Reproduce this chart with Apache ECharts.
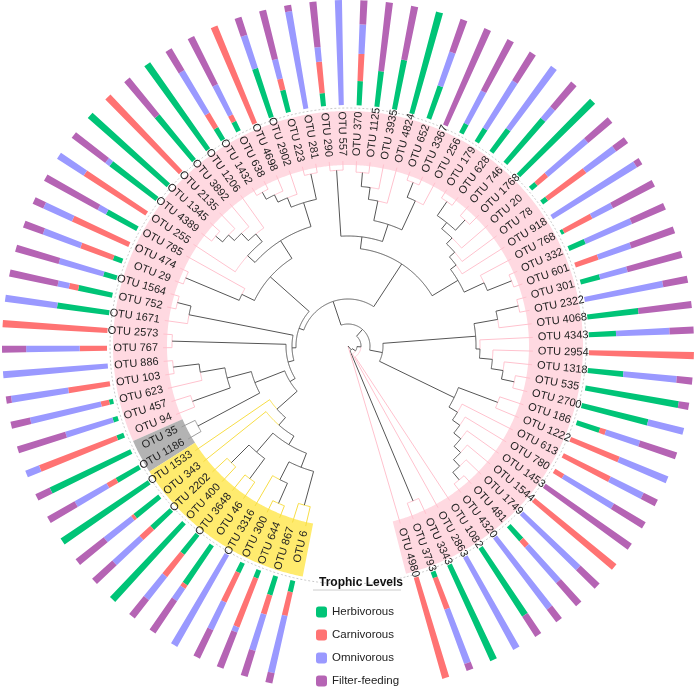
<!DOCTYPE html>
<html>
<head>
<meta charset="utf-8">
<script src="https://cdn.jsdelivr.net/npm/echarts@6/dist/echarts.min.js"></script>
<style>
html, body { margin: 0; padding: 0; background: #fff; }
#chart { width: 697px; height: 689px; }
</style>
</head>
<body>
<div id="chart"></div>
<script>
// leaves, in order round the circle (anticlockwise from the bottom gap)
const otus = ['4980','3793','3343','2863','1082','4320','481','1749','1544','1453','780','613','1222','186',
  '2700','535','1318','2954','4343','4068','2322','301','601','332','768','918','78','20','1768','746','628',
  '179','256','3367','652','4824','3935','1125','370','557','290','281','223','2902','4698','638','1432',
  '1206','3892','2135','1345','4389','255','785','474','29','1564','752','1671','2573','767','886','103',
  '623','457','94','35','1186','1533','343','2202','400','3648','46','3316','300','644','867','6'];

// trophic level shares per leaf
const herbivorous = [0,.06,1,0,.77,0,.18,0,0,0,0,0,0,.23,.65,.9,.34,0,.26,.49,0,.19,0,.17,.03,0,.06,.07,1,.55,.27,
  .15,.1,0,.33,1,.48,.34,.23,0,.125,0,.22,.49,0,.1,.13,1,.55,0,1,.55,0,.33,0,.09,.13,.33,.5,0,0,0,0,
  .04,.05,.07,.85,.25,1,.3,.25,1,.23,.45,0,.1,.08,.19,.11];
const carnivorous = [1,.32,0,0,0,0,.08,0,1,0,.1,.5,.5,.06,0,0,0,1,0,0,0,0,.23,0,.3,0,.45,.13,0,0,0,
  0,0,0,0,0,0,0,.26,0,.3,0,.11,0,1,.07,.16,0,0,1,0,0,.7,0,.59,.33,0,.09,0,1,.26,0,.4,
  .08,0,.79,0,.1,0,.03,.14,0,.27,.04,0,.31,.5,.19,.23];
const omnivorous = [0,.55,0,1,0,.85,.45,.75,0,0,.55,.35,.5,.34,.35,0,.51,0,.51,0,.76,.27,.33,.48,.22,.94,.35,.5,0,.14,.73,
  .53,.35,0,.34,0,0,0,.28,1,.14,.94,.19,.33,0,.32,.47,0,0,0,0,.05,.3,.09,.3,.38,.44,.11,.5,0,.51,1,.55,
  .69,.47,.14,0,.35,0,.33,.35,0,.28,.14,1,.29,.05,.36,.56];
const filterFeeding = [0,.07,0,0,.23,.15,.29,.25,0,1,.35,.15,0,.37,0,.1,.15,0,.23,.51,.24,.54,.44,.35,.45,.06,.14,.3,0,.31,0,
  .32,.55,1,.33,0,.52,.66,.23,0,.435,.06,.48,.18,0,.51,.24,0,.45,0,0,.4,0,.58,.11,.2,.43,.47,0,0,.23,0,.05,
  .19,.48,0,.15,.3,0,.34,.26,0,.22,.37,0,.3,.37,.26,.1];

// highlighted clades: first leaf, last leaf
const cladeFrom = ['4980', '35', '1533'];
const cladeTo = ['94', '1186', '6'];
const cladeFill = ['#FFD9E1', '#B3B3B3', '#FFEB6E'];
const cladeLine = ['#FFC2CE', '#9C9C9C', '#F7DD45'];

// tree: [node radius, ...children], leaves by name
const tree = [0,
  '4980',
  [5,
    [168, '3793', '3343'],
    [9,
      '2863',
      [13,
        '1082',
        [22,
          [35,
            [118,
              [128, [137, [146, [155, [164, [174, '4320', '481'], '1749'], '1544'], '1453'], '780'], '613'],
              [160, '1222', '186']
            ],
            [128,
              [132, [145, [157, [170, '2700', '535'], '1318'], '2954'], '4343'],
              [152, '4068', [175, '2322', '301']]
            ]
          ],
          [47,
            [98,
              [128,
                [150, [176, '601', '332'], '768'],
                [135, '918', [142, '78', [150, '20', [158, [172, '1768', '746'], [175, '628', '179']]]]]
              ],
              [110,
                [128, [160, '256', [176, '3367', '652']], [148, '4824', [160, '3935', [174, '1125', '370']]]],
                [176, '557', '290']
              ]
            ],
            [52,
              [104,
                [125,
                  [150, [176, '281', '223'], [160, '2902', [168, '4698', [176, '638', '1432']]]],
                  [135, [145, '1206', [155, '3892', [163, '2135', [172, '1345', '4389']]]], '255']
                ],
                [118, '785', [176, '474', '29']]
              ],
              [56,
                [162, [176, '1564', '752'], '1671'],
                [62,
                  [176, '2573', '767'],
                  [68,
                    [100, [125, [150, [176, '886', '103'], '623'], [165, '457', '94']], [170, '35', '1186']],
                    [95, '1533', [105, '343', [115,
                      [140, [165, '2202', '400'], [165, '3648', '46']],
                      [130, [150, '3316', [172, '300', '644']], [165, '867', '6']]
                    ]]]
                  ]
                ]
              ]
            ]
          ]
        ]
      ]
    ]
  ]
];

const SLOTS = 85;
const START = 284.3;
const TIP = 185;
const DARK = '#555';

const slotNames = [];
for (let i = 0; i < SLOTS; i++) slotNames.push(i < otus.length ? 'OTU ' + otus[i] : '');

function leafClade(i) {
  for (let k = 0; k < cladeFrom.length; k++) {
    if (i >= otus.indexOf(cladeFrom[k]) && i <= otus.indexOf(cladeTo[k])) return k;
  }
  return 0;
}

// tree segments: [kind, r1, r2, a1, a2, color]
const segs = [];
function walk(node) {
  if (typeof node === 'string') {
    const i = otus.indexOf(node);
    return { a: i + 0.5, r: TIP, col: cladeLine[leafClade(i)] };
  }
  const r = node[0];
  const kids = node.slice(1).map(walk);
  const a = (kids[0].a + kids[kids.length - 1].a) / 2;
  kids.forEach(k => {
    segs.push(['arc', r, r, a, k.a, k.col]);
    segs.push(['rad', r, k.r, k.a, k.a, k.col]);
  });
  return { a: a, r: r, col: DARK };
}
walk(tree);

function arcPoints(api, r, a1, a2) {
  const n = Math.max(2, Math.ceil(Math.abs(a2 - a1) / 0.1) + 1);
  const pts = [];
  for (let k = 0; k < n; k++) pts.push(api.coord([r, a1 + (a2 - a1) * k / (n - 1)]));
  return pts;
}

const bands = cladeFrom.map((f, k) => [otus.indexOf(f), otus.indexOf(cladeTo[k]) + 1, k]);

const font = '"Liberation Sans", Arial, sans-serif';

const chart = echarts.init(document.getElementById('chart'));
chart.setOption({
  animation: false,
  title: {
    text: 'Trophic Levels',
    left: 314, top: 572,
    textStyle: { fontSize: 12, fontWeight: 'bold', color: '#111', fontFamily: font }
  },
  graphic: [{
    type: 'line', shape: { x1: 313, y1: 590, x2: 401, y2: 590 },
    style: { stroke: '#ccc', lineWidth: 1 }
  }],
  legend: {
    orient: 'vertical', left: 316, top: 606, padding: 0,
    itemWidth: 11, itemHeight: 11, itemGap: 11,
    icon: 'roundRect',
    textStyle: { fontSize: 11.5, color: '#222', fontFamily: font },
    data: ['Herbivorous', 'Carnivorous', 'Omnivorous', 'Filter-feeding']
  },
  polar: [
    { center: [348, 346], radius: [241, 346] },
    { center: [348, 346], radius: [0, 346] }
  ],
  angleAxis: [
    { polarIndex: 0, type: 'category', data: slotNames, startAngle: START, clockwise: false, show: false },
    { polarIndex: 1, type: 'value', min: 0, max: SLOTS, startAngle: START, clockwise: false, show: false }
  ],
  radiusAxis: [
    { polarIndex: 0, type: 'value', min: 0, max: 1, show: false },
    { polarIndex: 1, type: 'value', min: 0, max: 346, show: false }
  ],
  series: [
    {
      type: 'custom', coordinateSystem: 'polar', polarIndex: 1, z: 1, silent: true,
      data: bands.map(b => [200, b[0]]),
      renderItem: (params, api) => {
        const b = bands[params.dataIndex];
        const pts = arcPoints(api, 235, b[0], b[1]).concat(arcPoints(api, 181, b[1], b[0]));
        return { type: 'polygon', shape: { points: pts }, style: { fill: cladeFill[b[2]] } };
      }
    },
    {
      type: 'custom', coordinateSystem: 'polar', polarIndex: 1, z: 2, silent: true,
      data: [[238, 0]],
      renderItem: (params, api) => ({
        type: 'polyline', shape: { points: arcPoints(api, 238, 0, SLOTS) },
        style: { stroke: '#c8c8c8', lineWidth: 1, lineDash: [2, 2], fill: null }
      })
    },
    {
      type: 'custom', coordinateSystem: 'polar', polarIndex: 1, z: 3, silent: true,
      data: segs.map(s => [s[1], s[3]]),
      renderItem: (params, api) => {
        const s = segs[params.dataIndex];
        const pts = s[0] === 'arc' ? arcPoints(api, s[1], s[3], s[4])
          : [api.coord([s[1], s[3]]), api.coord([s[2], s[3]])];
        return { type: 'polyline', shape: { points: pts }, style: { stroke: s[5], lineWidth: 1, fill: null } };
      }
    },
    {
      type: 'custom', coordinateSystem: 'polar', polarIndex: 1, z: 4, silent: true,
      data: otus.map((o, i) => [190, i + 0.5]),
      renderItem: (params, api) => {
        const a = params.dataIndex + 0.5;
        const c = api.coord([0, a]);
        const p = api.coord([190, a]);
        const ang = Math.atan2(-(p[1] - c[1]), p[0] - c[0]);
        const right = Math.cos(ang) >= 0;
        return {
          type: 'text', x: p[0], y: p[1], rotation: right ? ang : ang - Math.PI,
          style: {
            text: 'OTU ' + otus[params.dataIndex], fill: '#222', font: '11px ' + font,
            align: right ? 'left' : 'right', verticalAlign: 'middle'
          }
        };
      }
    },
    { name: 'Herbivorous', type: 'bar', coordinateSystem: 'polar', polarIndex: 0, stack: 'troph',
      barWidth: '28%', data: herbivorous, itemStyle: { color: '#00C477' } },
    { name: 'Carnivorous', type: 'bar', coordinateSystem: 'polar', polarIndex: 0, stack: 'troph',
      barWidth: '28%', data: carnivorous, itemStyle: { color: '#FF7373' } },
    { name: 'Omnivorous', type: 'bar', coordinateSystem: 'polar', polarIndex: 0, stack: 'troph',
      barWidth: '28%', data: omnivorous, itemStyle: { color: '#9A99FF' } },
    { name: 'Filter-feeding', type: 'bar', coordinateSystem: 'polar', polarIndex: 0, stack: 'troph',
      barWidth: '28%', data: filterFeeding, itemStyle: { color: '#B564B4' } }
  ]
});
</script>
</body>
</html>
